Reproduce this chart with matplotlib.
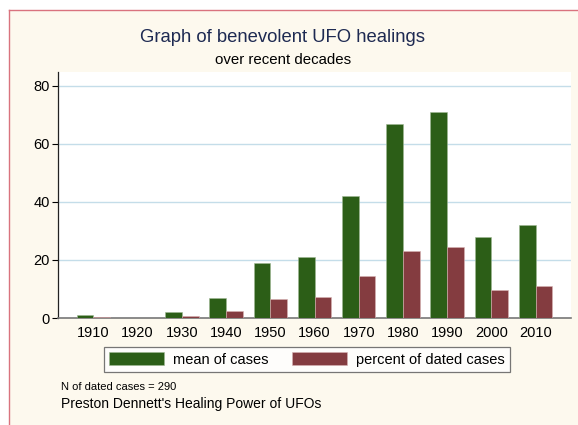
import matplotlib
matplotlib.use("Agg")
import matplotlib.pyplot as plt
import numpy as np
from matplotlib.patches import Rectangle
from matplotlib.lines import Line2D

plt.rcParams['font.family'] = ['Liberation Sans', 'DejaVu Sans']

decades = ["1910", "1920", "1930", "1940", "1950", "1960", "1970", "1980", "1990", "2000", "2010"]
mean_cases = [1, 0, 2, 7, 19, 21, 42, 67, 71, 28, 32]
percent_dated = [0.34, 0.0, 0.69, 2.41, 6.55, 7.24, 14.48, 23.10, 24.48, 9.66, 11.03]
y_ticks = [0, 20, 40, 60, 80]

green = "#2c5e17"
red = "#843c40"
cream = "#fdf9ee"

fig = plt.figure(figsize=(5.78, 4.25), dpi=100)
fig.patch.set_facecolor("white")

# cream panel with pink top/left border
fig.patches.append(Rectangle((9/578, 0), 1, 1 - 10/425, transform=fig.transFigure,
                             facecolor=cream, edgecolor="none", zorder=-10))
fig.lines.append(Line2D([9/578, 9/578], [0, 1 - 10/425], transform=fig.transFigure,
                        color="#d9737e", lw=1.0))
fig.lines.append(Line2D([9/578, 1], [1 - 10/425, 1 - 10/425], transform=fig.transFigure,
                        color="#d9737e", lw=1.0))

ax = fig.add_axes([58/578, 1 - 318/425, (571 - 58)/578, (318 - 72)/425])
ax.set_facecolor("white")

x = np.arange(len(decades))
w = 0.377
ax.bar(x - w/2, mean_cases, width=w, color=green, edgecolor="#9fb894", linewidth=0.4,
       label="mean of cases", zorder=3)
ax.bar(x + w/2, percent_dated, width=w, color=red, edgecolor="#d8b3b4", linewidth=0.4,
       label="percent of dated cases", zorder=3)

ax.set_xlim(-0.8, 10.8)
ax.set_ylim(0, 84.8)
ax.set_yticks(y_ticks)
ax.set_yticklabels([str(v) for v in y_ticks], fontsize=10.5)
ax.set_xticks(x)
ax.set_xticklabels(decades, fontsize=10.5)
ax.tick_params(axis="x", length=0, pad=6)
ax.tick_params(axis="y", length=4, width=0.8, pad=2)
for v in y_ticks[1:]:
    ax.axhline(v, color="#c4dde9", lw=1.0, zorder=1)

for s in ["top", "right"]:
    ax.spines[s].set_visible(False)
ax.spines["left"].set_color("#222222")
ax.spines["left"].set_linewidth(0.9)
ax.spines["bottom"].set_color("#777777")
ax.spines["bottom"].set_linewidth(1.2)

fig.text(283/578, 1 - 37/425, "Graph of benevolent UFO healings", ha="center", va="center",
         fontsize=13.3, color="#1e2a52")
fig.text(283/578, 1 - 60/425, "over recent decades", ha="center", va="center",
         fontsize=10.8, color="black")

leg = ax.legend(loc="center", bbox_to_anchor=(307/578, 1 - 359.5/425), bbox_transform=fig.transFigure,
                ncol=2, frameon=True, fontsize=10.5, handlelength=3.8, handleheight=1.0,
                columnspacing=1.6, handletextpad=0.6, borderpad=0.35, fancybox=False)
leg.get_frame().set_edgecolor("#555555")
leg.get_frame().set_linewidth(0.9)

fig.text(61/578, 1 - 387/425, "N of dated cases = 290", ha="left", va="center", fontsize=8)
fig.text(61/578, 1 - 404/425, "Preston Dennett's Healing Power of UFOs", ha="left", va="center",
         fontsize=10)

fig.savefig("out.png", dpi=100)
